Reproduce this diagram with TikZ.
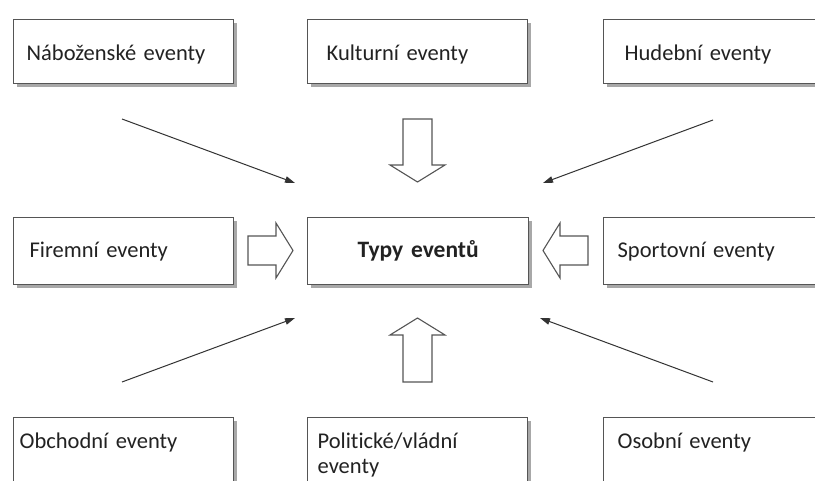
\documentclass[tikz,border=0pt]{standalone}
\usepackage{fontspec}
\setmainfont{Carlito}[Ligatures=NoCommon]
\usetikzlibrary{shadows,arrows.meta}
\definecolor{boxline}{HTML}{555555}
\definecolor{shadowcol}{HTML}{A8A8A8}
\definecolor{textcol}{HTML}{222222}
\definecolor{arrowcol}{HTML}{333333}
\tikzset{
  box/.style={draw=boxline, line width=1.3pt, fill=white, anchor=north west,
    inner ysep=5pt, align=left, text=textcol,
    font=\fontsize{22.5}{25}\selectfont,
    drop shadow={shadow xshift=3pt, shadow yshift=-3pt, fill=shadowcol, opacity=1}},
  toprow/.style={text height=36pt, text depth=18pt},
  midrow/.style={text height=35pt, text depth=22pt},
  botrow/.style={text height=26pt, text depth=31pt},
  fatarrow/.style={draw=boxline, line width=1.1pt, fill=white, line join=miter},
  thinarrow/.style={draw=arrowcol, line width=1pt, -{Triangle[length=10pt,width=6.5pt]}}
}
\begin{document}
\begin{tikzpicture}[x=1pt,y=-1pt]
\useasboundingbox (0,0) rectangle (815,481);
\clip (0,0) rectangle (815,481);
\fill[white] (0,0) rectangle (815,481);

% top row
\node[box, toprow, inner xsep=13pt, text width=194pt] (nab) at (13,19) {Náboženské eventy};
\node[box, toprow, inner xsep=19pt, text width=182pt] (kul) at (307,19) {Kulturní eventy};
\node[box, toprow, inner xsep=21pt, text width=178pt] (hud) at (603,19) {Hudební eventy};

% middle row
\node[box, midrow, inner xsep=16pt, text width=188pt] (fir) at (13,217) {Firemní eventy};
\node[box, midrow, inner xsep=5pt, text width=211pt, align=center, font=\fontsize{23.5}{25}\selectfont\bfseries] (typy) at (307,217) {Typy eventů};
\node[box, midrow, inner xsep=14pt, text width=192pt] (spo) at (603,217) {Sportovní eventy};

% bottom row
\node[box, botrow, inner xsep=6pt, text width=208pt] (obc) at (13,417) {Obchodní eventy};
\node[box, botrow, inner xsep=10pt, text width=200pt] (pol) at (307,417) {Politické/vládní\\eventy};
\node[box, botrow, inner xsep=14pt, text width=192pt] (oso) at (603,417) {Osobní eventy};

% block arrows
\draw[fatarrow] (248,236) -- (276,236) -- (276,223) -- (293,250.5) -- (276,278) -- (276,265) -- (248,265) -- cycle;
\draw[fatarrow] (588,236) -- (560,236) -- (560,223) -- (543,250.5) -- (560,278) -- (560,265) -- (588,265) -- cycle;
\draw[fatarrow] (403,119) -- (432,119) -- (432,165) -- (445,165) -- (417.5,182) -- (390,165) -- (403,165) -- cycle;
\draw[fatarrow] (403,382) -- (432,382) -- (432,335) -- (445,335) -- (417.5,318) -- (390,335) -- (403,335) -- cycle;

% thin arrows
\coordinate (a1s) at (122,119);
\coordinate (a1e) at (295,183);
\coordinate (a2s) at (713,120);
\coordinate (a2e) at (543,183);
\coordinate (a3s) at (122,382);
\coordinate (a3e) at (295,318);
\coordinate (a4s) at (713,382);
\coordinate (a4e) at (540,318);
\draw[thinarrow] (a1s) -- (a1e);
\draw[thinarrow] (a2s) -- (a2e);
\draw[thinarrow] (a3s) -- (a3e);
\draw[thinarrow] (a4s) -- (a4e);
\end{tikzpicture}
\end{document}
